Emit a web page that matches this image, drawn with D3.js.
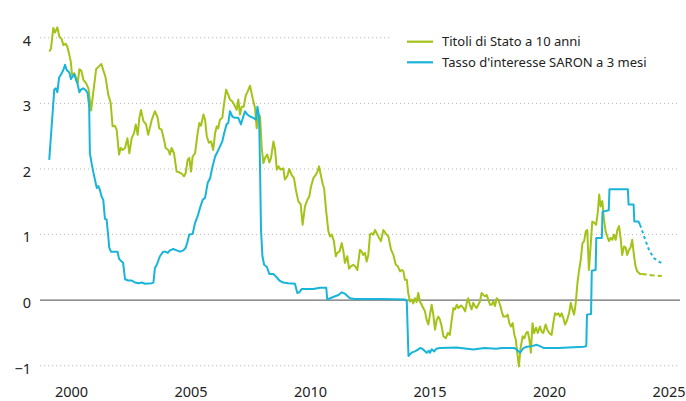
<!DOCTYPE html>
<html>
<head>
<meta charset="utf-8">
<script src="https://cdn.jsdelivr.net/npm/d3@7"></script>
<style>
  body { margin: 0; background: #fff; }
  svg { display: block; font-family: "Noto Sans", "Open Sans", sans-serif; }
</style>
</head>
<body>
<svg id="chart" width="686" height="401"></svg>
<script>
// Swiss 10y government bond yield vs 3m SARON rate, in percent
const yTicks = [-1, 0, 1, 2, 3, 4]
const xTicks = [2000, 2005, 2010, 2015, 2020, 2025]
const seriesNames = ['Titoli di Stato a 10 anni', "Tasso d'interesse SARON a 3 mesi"]

const bondActual = [
  [1999.09, 3.79], [1999.16, 3.83], [1999.26, 4.15], [1999.33, 4.08], [1999.43, 4.16], [1999.51, 4.02],
  [1999.61, 3.98], [1999.68, 3.89], [1999.78, 3.91], [1999.85, 3.86], [1999.93, 3.74], [1999.99, 3.64],
  [2000.04, 3.44], [2000.14, 3.46], [2000.21, 3.39], [2000.28, 3.31], [2000.35, 3.52], [2000.43, 3.50],
  [2000.52, 3.36], [2000.63, 3.31], [2000.73, 3.23], [2000.84, 2.89], [2000.93, 3.16], [2001.05, 3.52],
  [2001.16, 3.56], [2001.27, 3.60], [2001.35, 3.51], [2001.45, 3.39], [2001.56, 3.13], [2001.66, 3.01],
  [2001.74, 2.65], [2001.83, 2.66], [2001.91, 2.60], [2002.01, 2.22], [2002.08, 2.32], [2002.16, 2.29],
  [2002.26, 2.32], [2002.36, 2.47], [2002.44, 2.24], [2002.54, 2.47], [2002.64, 2.55], [2002.71, 2.68],
  [2002.79, 2.52], [2002.86, 2.78], [2002.93, 2.90], [2003.03, 2.73], [2003.14, 2.68], [2003.23, 2.52],
  [2003.38, 2.75], [2003.51, 2.88], [2003.63, 2.78], [2003.69, 2.62], [2003.79, 2.60], [2003.89, 2.45],
  [2003.96, 2.32], [2004.07, 2.29], [2004.14, 2.22], [2004.21, 2.32], [2004.31, 2.24], [2004.42, 1.96],
  [2004.53, 1.95], [2004.63, 1.93], [2004.73, 1.89], [2004.80, 1.94], [2004.88, 2.14], [2004.95, 2.17],
  [2005.02, 1.96], [2005.09, 2.19], [2005.19, 2.24], [2005.30, 2.55], [2005.37, 2.70], [2005.44, 2.66],
  [2005.54, 2.83], [2005.61, 2.75], [2005.68, 2.50], [2005.77, 2.40], [2005.86, 2.42], [2005.95, 2.29],
  [2006.03, 2.55], [2006.10, 2.65], [2006.16, 2.62], [2006.23, 2.75], [2006.33, 2.78], [2006.40, 2.98],
  [2006.49, 3.21], [2006.58, 3.13], [2006.65, 3.06], [2006.75, 3.03], [2006.83, 2.98], [2006.93, 2.90],
  [2007.00, 3.06], [2007.07, 2.83], [2007.14, 2.95], [2007.23, 2.95], [2007.31, 3.12], [2007.39, 3.18],
  [2007.49, 3.27], [2007.60, 3.08], [2007.70, 2.93], [2007.77, 2.62], [2007.84, 2.83], [2007.91, 2.80],
  [2007.98, 2.32], [2008.05, 2.09], [2008.12, 2.17], [2008.21, 2.22], [2008.30, 2.10], [2008.37, 2.17],
  [2008.47, 2.42], [2008.54, 2.29], [2008.61, 1.99], [2008.68, 2.04], [2008.77, 1.99], [2008.88, 2.01],
  [2008.95, 1.84], [2009.05, 1.89], [2009.13, 2.00], [2009.23, 1.91], [2009.33, 1.86], [2009.41, 1.68],
  [2009.51, 1.51], [2009.61, 1.46], [2009.69, 1.15], [2009.79, 1.43], [2009.89, 1.53], [2009.97, 1.58],
  [2010.04, 1.73], [2010.14, 1.86], [2010.24, 1.91], [2010.31, 1.96], [2010.38, 2.04], [2010.45, 1.91],
  [2010.54, 1.76], [2010.59, 1.71], [2010.67, 1.38], [2010.77, 1.05], [2010.84, 0.97], [2010.91, 1.00],
  [2011.00, 0.90], [2011.08, 0.67], [2011.14, 0.72], [2011.23, 0.74], [2011.33, 0.87], [2011.40, 0.74],
  [2011.46, 0.57], [2011.56, 0.67], [2011.63, 0.48], [2011.72, 0.52], [2011.81, 0.54], [2011.88, 0.52],
  [2011.98, 0.46], [2012.09, 0.77], [2012.16, 0.74], [2012.23, 0.69], [2012.30, 0.72], [2012.37, 0.59],
  [2012.44, 0.69], [2012.51, 1.00], [2012.58, 1.02], [2012.65, 1.00], [2012.72, 1.07], [2012.79, 1.02],
  [2012.89, 0.95], [2012.97, 0.90], [2013.07, 1.07], [2013.17, 1.02], [2013.28, 0.97], [2013.39, 0.77],
  [2013.49, 0.69], [2013.59, 0.54], [2013.67, 0.52], [2013.77, 0.44], [2013.84, 0.46], [2013.91, 0.44],
  [2013.97, 0.31], [2014.05, 0.31], [2014.11, 0.11], [2014.18, -0.02], [2014.25, 0.01], [2014.32, -0.05],
  [2014.39, 0.03], [2014.46, -0.03], [2014.53, 0.11], [2014.60, -0.02], [2014.67, -0.07], [2014.74, -0.12],
  [2014.81, -0.17], [2014.88, -0.30], [2014.95, -0.37], [2015.02, -0.22], [2015.09, -0.07], [2015.16, -0.22],
  [2015.23, -0.45], [2015.30, -0.30], [2015.37, -0.25], [2015.44, -0.30], [2015.51, -0.40], [2015.58, -0.55],
  [2015.68, -0.58], [2015.77, -0.50], [2015.85, -0.53], [2015.93, -0.30], [2016.00, -0.12], [2016.07, -0.14],
  [2016.14, -0.07], [2016.21, -0.12], [2016.32, -0.08], [2016.42, -0.12], [2016.49, -0.17], [2016.56, -0.04],
  [2016.62, 0.03], [2016.69, -0.07], [2016.76, -0.14], [2016.83, -0.04], [2016.90, -0.09], [2016.97, -0.12],
  [2017.04, -0.07], [2017.11, -0.02], [2017.18, 0.11], [2017.25, 0.08], [2017.32, 0.06], [2017.39, 0.08],
  [2017.46, 0.01], [2017.53, -0.07], [2017.60, -0.07], [2017.67, -0.02], [2017.74, -0.09], [2017.81, 0.03],
  [2017.88, 0.01], [2017.95, -0.07], [2018.02, -0.17], [2018.09, -0.25], [2018.19, -0.25], [2018.27, -0.22],
  [2018.34, -0.35], [2018.41, -0.40], [2018.48, -0.35], [2018.55, -0.53], [2018.61, -0.60], [2018.67, -0.80],
  [2018.74, -1.01], [2018.81, -0.73], [2018.90, -0.55], [2018.97, -0.58], [2019.04, -0.50], [2019.11, -0.48],
  [2019.18, -0.60], [2019.24, -0.80], [2019.31, -0.35], [2019.38, -0.50], [2019.46, -0.42], [2019.53, -0.50],
  [2019.62, -0.40], [2019.69, -0.48], [2019.76, -0.50], [2019.86, -0.37], [2019.93, -0.45], [2020.01, -0.50],
  [2020.11, -0.53], [2020.18, -0.35], [2020.25, -0.20], [2020.32, -0.22], [2020.39, -0.20], [2020.46, -0.25],
  [2020.53, -0.20], [2020.60, -0.27], [2020.67, -0.37], [2020.74, -0.32], [2020.84, -0.20], [2020.91, -0.04],
  [2020.98, -0.14], [2021.05, -0.22], [2021.12, -0.04], [2021.19, 0.26], [2021.26, 0.46], [2021.33, 0.62],
  [2021.40, 0.87], [2021.47, 0.90], [2021.54, 1.05], [2021.60, 1.07], [2021.67, 0.46], [2021.75, 0.87],
  [2021.81, 1.20], [2021.90, 1.18], [2021.97, 1.15], [2022.04, 1.33], [2022.10, 1.61], [2022.16, 1.43],
  [2022.23, 1.51], [2022.30, 1.23], [2022.37, 1.05], [2022.44, 0.97], [2022.51, 0.90], [2022.58, 0.95],
  [2022.65, 0.92], [2022.72, 1.00], [2022.79, 0.92], [2022.86, 1.07], [2022.93, 1.13], [2022.99, 0.97],
  [2023.06, 0.69], [2023.14, 0.82], [2023.21, 0.80], [2023.27, 0.69], [2023.35, 0.77], [2023.41, 0.80],
  [2023.48, 0.92], [2023.56, 0.67], [2023.62, 0.52], [2023.69, 0.44], [2023.81, 0.40], [2023.88, 0.40]
]
const bondForecast = [[2023.88, 0.40], [2024.30, 0.38], [2024.72, 0.37]]

const saronActual = [
  [1999.09, 2.14], [1999.16, 2.50], [1999.23, 2.85], [1999.30, 3.21], [1999.37, 3.23], [1999.43, 3.17],
  [1999.50, 3.39], [1999.61, 3.46], [1999.68, 3.51], [1999.75, 3.59], [1999.82, 3.51], [1999.93, 3.47],
  [2000.00, 3.37], [2000.06, 3.41], [2000.14, 3.44], [2000.21, 3.36], [2000.28, 3.29], [2000.35, 3.17],
  [2000.42, 3.21], [2000.51, 3.23], [2000.62, 3.20], [2000.70, 3.15], [2000.76, 2.95], [2000.79, 2.24],
  [2000.87, 2.07], [2000.93, 1.96], [2001.00, 1.84], [2001.08, 1.71], [2001.14, 1.74], [2001.21, 1.68],
  [2001.28, 1.58], [2001.35, 1.53], [2001.42, 1.24], [2001.49, 1.23], [2001.56, 0.97], [2001.60, 0.80],
  [2001.67, 0.74], [2001.95, 0.74], [2002.01, 0.63], [2002.12, 0.59], [2002.18, 0.57], [2002.26, 0.32],
  [2002.40, 0.30], [2002.54, 0.30], [2002.68, 0.27], [2002.82, 0.26], [2002.96, 0.27], [2003.10, 0.25],
  [2003.38, 0.26], [2003.45, 0.27], [2003.51, 0.49], [2003.59, 0.54], [2003.72, 0.67], [2003.86, 0.74],
  [2003.95, 0.74], [2004.05, 0.72], [2004.14, 0.76], [2004.28, 0.78], [2004.42, 0.76], [2004.56, 0.74],
  [2004.70, 0.76], [2004.80, 0.80], [2004.88, 0.90], [2004.95, 1.00], [2005.09, 1.01], [2005.19, 1.18],
  [2005.30, 1.28], [2005.40, 1.41], [2005.51, 1.53], [2005.61, 1.56], [2005.72, 1.79], [2005.82, 1.86],
  [2005.91, 2.02], [2006.03, 2.19], [2006.14, 2.27], [2006.23, 2.34], [2006.33, 2.42], [2006.41, 2.55],
  [2006.51, 2.68], [2006.58, 2.70], [2006.65, 2.88], [2006.75, 2.80], [2006.86, 2.78], [2007.00, 2.78],
  [2007.11, 2.68], [2007.21, 2.80], [2007.28, 2.88], [2007.38, 2.83], [2007.49, 2.80], [2007.63, 2.78],
  [2007.74, 2.75], [2007.80, 2.95], [2007.87, 2.80], [2007.91, 2.01], [2007.95, 1.07], [2008.01, 0.67],
  [2008.08, 0.54], [2008.19, 0.51], [2008.30, 0.40], [2008.47, 0.40], [2008.58, 0.36], [2008.72, 0.30],
  [2008.88, 0.27], [2009.09, 0.26], [2009.37, 0.25], [2009.47, 0.11], [2009.55, 0.12], [2009.65, 0.17],
  [2010.14, 0.17], [2010.42, 0.19], [2010.68, 0.19], [2010.72, 0.01], [2010.84, 0.03], [2011.05, 0.06],
  [2011.19, 0.08], [2011.33, 0.12], [2011.46, 0.10], [2011.67, 0.03], [2011.88, 0.02], [2012.50, 0.02],
  [2013.00, 0.02], [2013.99, 0.01], [2014.05, -0.02], [2014.12, -0.85], [2014.25, -0.80], [2014.39, -0.78],
  [2014.53, -0.75], [2014.60, -0.73], [2014.70, -0.74], [2014.88, -0.80], [2014.97, -0.77], [2015.02, -0.80],
  [2015.09, -0.75], [2015.20, -0.78], [2015.28, -0.74], [2015.44, -0.73], [2016.14, -0.72], [2016.83, -0.75],
  [2017.30, -0.73], [2017.80, -0.74], [2018.02, -0.73], [2018.55, -0.73], [2018.64, -0.75], [2018.79, -0.80],
  [2018.93, -0.73], [2019.07, -0.71], [2019.28, -0.70], [2019.49, -0.68], [2019.62, -0.70], [2019.79, -0.73],
  [2020.40, -0.73], [2020.80, -0.72], [2021.46, -0.71], [2021.56, -0.70], [2021.59, -0.22], [2021.76, -0.21],
  [2021.79, 0.45], [2021.95, 0.46], [2021.98, 0.95], [2022.21, 0.95], [2022.24, 1.35], [2022.50, 1.37],
  [2022.53, 1.69], [2023.30, 1.69], [2023.33, 1.46], [2023.54, 1.46], [2023.57, 1.20], [2023.74, 1.20],
  [2023.81, 1.15]
]
const saronForecast = [[2023.81, 1.15], [2024.00, 0.95], [2024.20, 0.75], [2024.40, 0.64], [2024.72, 0.56]]

const colors = ['#a3c319', '#18b4d9']

const svg = d3.select('#chart')

const xScale = d3.scaleLinear().domain([2000, 2025]).range([71, 668.5])
const yScale = d3.scaleLinear().domain([-1, 4]).range([365.8, 37.8])

// dotted grid (top line stops before the legend)
svg.append('g')
  .selectAll('line')
  .data(yTicks.filter(d => d !== 0))
  .join('line')
  .attr('x1', 40)
  .attr('x2', d => d === 4 ? 390 : 680)
  .attr('y1', d => yScale(d))
  .attr('y2', d => yScale(d))
  .attr('stroke', '#b8b8b8')
  .attr('stroke-width', 1)
  .attr('stroke-dasharray', '1,3')

svg.append('line')
  .attr('x1', 40).attr('x2', 680)
  .attr('y1', yScale(0)).attr('y2', yScale(0))
  .attr('stroke', '#6e6e6e')
  .attr('stroke-width', 1.3)

const yAxis = svg.append('g')
  .attr('transform', 'translate(40,0)')
  .call(d3.axisLeft(yScale).tickValues(yTicks).tickSize(0).tickPadding(9).tickFormat(d3.format('d')))
yAxis.select('.domain').remove()
yAxis.selectAll('text')
  .attr('dy', '0.5em')
  .attr('font-size', 14.5)
  .attr('fill', '#222')
  .attr('font-family', '"Noto Sans", sans-serif')

const xAxis = svg.append('g')
  .attr('transform', 'translate(0,384)')
  .call(d3.axisBottom(xScale).tickValues(xTicks).tickSize(0).tickPadding(3).tickFormat(d3.format('d')))
xAxis.select('.domain').remove()
xAxis.selectAll('text')
  .attr('font-size', 14.5)
  .attr('fill', '#222')
  .attr('font-family', '"Noto Sans", sans-serif')

const line = d3.line()
  .x(d => xScale(d[0]))
  .y(d => yScale(d[1]))

const series = [
  { data: bondActual, color: colors[0], dash: null },
  { data: saronActual, color: colors[1], dash: null },
  { data: bondForecast, color: colors[0], dash: '5,3' },
  { data: saronForecast, color: colors[1], dash: '3,3' }
]

svg.append('g')
  .selectAll('path')
  .data(series)
  .join('path')
  .attr('d', d => line(d.data))
  .attr('fill', 'none')
  .attr('stroke', d => d.color)
  .attr('stroke-width', 2)
  .attr('stroke-linejoin', 'round')
  .attr('stroke-dasharray', d => d.dash)

// legend
const legend = svg.append('g')
  .selectAll('g')
  .data(seriesNames)
  .join('g')
  .attr('transform', (d, i) => `translate(407,${41.7 + i * 20.6})`)

legend.append('line')
  .attr('x1', 0).attr('x2', 26)
  .attr('stroke', (d, i) => colors[i])
  .attr('stroke-width', 2.2)

legend.append('text')
  .attr('x', 35)
  .attr('dy', '0.35em')
  .attr('font-size', 13)
  .attr('fill', '#222')
  .text(d => d)
</script>
</body>
</html>
